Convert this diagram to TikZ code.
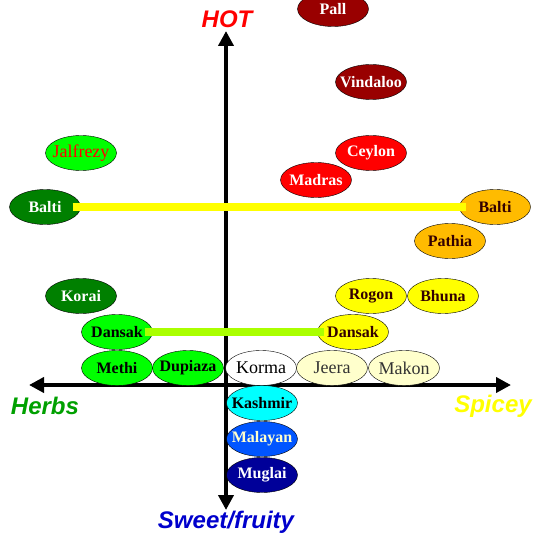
\documentclass[tikz,border=0pt]{standalone}
\usepackage{fontspec}
\setmainfont{Liberation Serif}
\setsansfont{Liberation Sans}
\usepackage{xcolor}
\definecolor{curryhot}{RGB}{153,0,0}
\definecolor{curryred}{RGB}{255,0,0}
\definecolor{currylime}{RGB}{0,255,0}
\definecolor{currygreen}{RGB}{0,128,0}
\definecolor{curryorange}{RGB}{255,187,0}
\definecolor{curryyellow}{RGB}{255,255,0}
\definecolor{currycream}{RGB}{255,255,204}
\definecolor{currycyan}{RGB}{0,255,255}
\definecolor{curryblue}{RGB}{0,85,255}
\definecolor{currynavy}{RGB}{0,0,153}
\definecolor{currytext}{RGB}{51,0,0}
\definecolor{dansaklink}{RGB}{170,255,0}
\definecolor{herbgreen}{RGB}{0,160,0}
\definecolor{sweetblue}{RGB}{0,0,204}
\usetikzlibrary{arrows.meta, shapes.geometric}

\begin{document}
\begin{tikzpicture}[x=1pt, y=-1pt,
  dish/.style={draw=black, thin, ellipse, minimum width=71pt, minimum height=35pt,
               inner sep=0pt, font=\fontsize{16}{18}\selectfont\bfseries,
               execute at begin node={\hbox to 0pt\bgroup\hss},
               execute at end node={\hss\egroup}},
  plain/.style={font=\fontsize{18}{20}\selectfont},
  axislabel/.style={font=\fontsize{24}{28}\selectfont\sffamily\bfseries\itshape},
  axisline/.style={line width=4pt, {Triangle[width=15pt,length=15pt]}-{Triangle[width=15pt,length=15pt]}}]

\useasboundingbox (0,0) rectangle (540,540);

% Axes
\coordinate (west) at (29,385);
\coordinate (east) at (511,385);
\coordinate (north) at (226,31);
\coordinate (south) at (226,510);
\draw[axisline] (west) -- (east);
\draw[axisline] (north) -- (south);

% Axis labels
\node[axislabel, text=curryred] (hot) at (227,19) {HOT};
\node[axislabel, text=herbgreen] (herbs) at (45,406) {Herbs};
\node[axislabel, text=curryyellow] (spicey) at (493,406) {Spicey};
\node[axislabel, text=sweetblue] (sweet) at (226,522) {Sweet/fruity};

% Hot dishes
\node[dish, fill=curryhot, text=white] (pall) at (333,9) {Pall};
\node[dish, fill=curryhot, text=white] (vindaloo) at (371,82) {Vindaloo};
\node[dish, fill=curryred, text=white] (ceylon) at (371,153) {Ceylon};
\node[dish, fill=curryred, text=white] (madras) at (316,180) {Madras};
\node[dish, plain, fill=currylime, text=curryred] (jalfrezy) at (81,153) {Jalfrezy};

% Balti and Pathia
\node[dish, fill=currygreen, text=white] (baltiherb) at (45,207) {Balti};
\node[dish, fill=curryorange, text=currytext] (baltispice) at (495,207) {Balti};
\node[dish, fill=curryorange, text=currytext] (pathia) at (450,241) {Pathia};

% Middle dishes
\node[dish, fill=currygreen, text=white] (korai) at (81,296) {Korai};
\node[dish, fill=curryyellow, text=currytext] (rogon) at (371,296) {Rogon};
\node[dish, fill=curryyellow, text=currytext] (bhuna) at (443,296) {Bhuna};
\node[dish, fill=currylime, text=black] (dansakherb) at (117,332) {Dansak};
\node[dish, fill=curryyellow, text=currytext] (dansakspice) at (353,332) {Dansak};

% Mild row
\node[dish, fill=currylime, text=black] (methi) at (117,368) {Methi};
\node[dish, fill=currylime, text=black] (dupiaza) at (188,368) {Dupiaza};
\node[dish, plain, fill=white, text=black] (korma) at (261,368) {Korma};
\node[dish, plain, fill=currycream, text=black!80] (jeera) at (332,368) {Jeera};
\node[dish, plain, fill=currycream, text=black!80] (makon) at (404,368) {Makon};

% Sweet dishes
\node[dish, fill=currycyan, text=black] (kashmir) at (262,403) {Kashmir};
\node[dish, fill=curryblue, text=currycream] (malayan) at (262,439) {Malayan};
\node[dish, fill=currynavy, text=white] (muglai) at (262,475) {Muglai};

% Connections
\draw[curryyellow, line width=8pt, shorten <=-8pt, shorten >=-7pt] (baltiherb.east) -- (baltispice.west);
\draw[dansaklink, line width=8pt, shorten <=-8pt, shorten >=-7pt] (dansakherb.east) -- (dansakspice.west);

\end{tikzpicture}
\end{document}
